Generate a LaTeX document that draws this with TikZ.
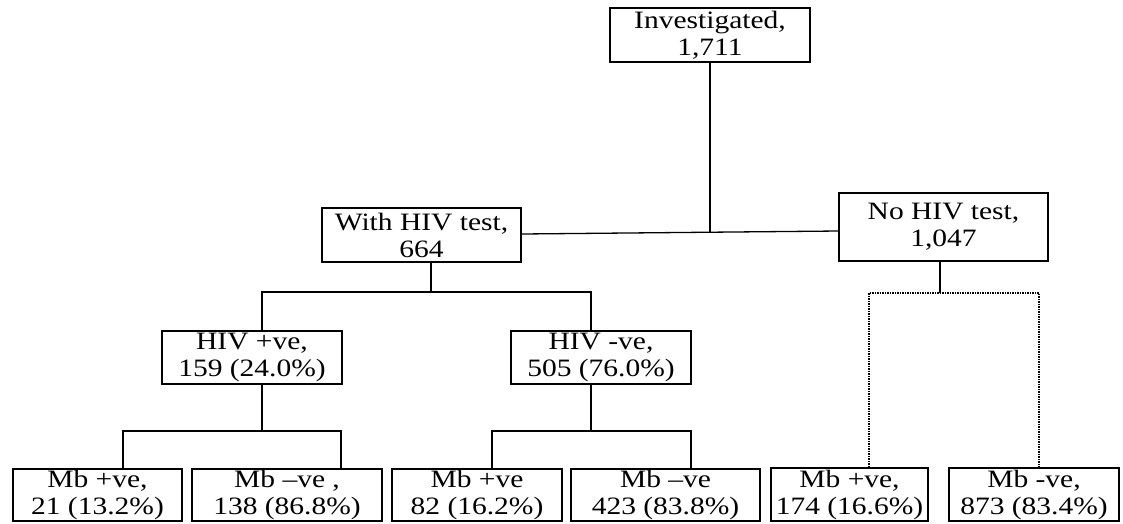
\documentclass[tikz,border=0pt]{standalone}
\usepackage{fontspec}
\setmainfont{Liberation Serif}[FakeStretch=1.18]
\begin{document}
\begin{tikzpicture}[x=1pt,y=-1pt,
  box/.style={draw,line width=1.3pt,inner sep=0pt,align=center,
    font=\fontsize{25pt}{27pt}\selectfont},
  link/.style={line width=1.3pt},
  dotlink/.style={line width=1.3pt,dash pattern=on 1.5pt off 1pt}]
\useasboundingbox[fill=white] (0,0) rectangle (1123,523);
% nodes
\node[box,minimum width=200pt,minimum height=54pt] (inv) at (710,35) {Investigated,\\1,711};
\node[box,minimum width=199pt,minimum height=54pt] (with) at (421.5,235) {With HIV test,\\664};
\node[box,minimum width=209pt,minimum height=68pt] (no) at (943.5,227) {No HIV test,\\1,047};
\node[box,minimum width=180pt,minimum height=53pt] (hpos) at (252,357.5) {HIV +ve,\\159 (24.0\%)};
\node[box,minimum width=180pt,minimum height=53pt] (hneg) at (601,357.5) {HIV -ve,\\505 (76.0\%)};
\node[box,minimum width=169pt,minimum height=52pt] (m1) at (97.5,495) {Mb +ve,\\21 (13.2\%)};
\node[box,minimum width=190pt,minimum height=52pt] (m2) at (287,495) {Mb –ve ,\\138 (86.8\%)};
\node[box,minimum width=170pt,minimum height=52pt] (m3) at (477,495) {Mb +ve\\82 (16.2\%)};
\node[box,minimum width=189pt,minimum height=52pt] (m4) at (665.5,495) {Mb –ve\\423 (83.8\%)};
\node[box,minimum width=157pt,minimum height=53pt] (m5) at (849.5,494.5) {Mb +ve,\\174 (16.6\%)};
\node[box,minimum width=170pt,minimum height=53pt] (m6) at (1034,494.5) {Mb -ve,\\873 (83.4\%)};
% junctions
\coordinate (j0) at (710,233);
\coordinate (wj) at (431,292);
\coordinate (a1) at (262,292);
\coordinate (a2) at (591,292);
\coordinate (b0) at (262,431);
\coordinate (b1) at (123,431);
\coordinate (b2) at (341,431);
\coordinate (c0) at (591,431);
\coordinate (c1) at (492,431);
\coordinate (c2) at (691,431);
\coordinate (d0) at (940,293);
\coordinate (d1) at (869,293);
\coordinate (d2) at (1039,293);
% connectors
\draw[link] (inv.south -| j0) -- (j0);
\draw[link] ([yshift=1pt]with.east) -- ([yshift=-4pt]no.west);
\draw[link] (wj |- with.south) -- (wj);
\draw[link] (a1 |- hpos.north) -- (a1) -- (a2) -- (a2 |- hneg.north);
\draw[link] (b0 |- hpos.south) -- (b0);
\draw[link] (b1 |- m1.north) -- (b1) -- (b2) -- (b2 |- m2.north);
\draw[link] (c0 |- hneg.south) -- (c0);
\draw[link] (c1 |- m3.north) -- (c1) -- (c2) -- (c2 |- m4.north);
\draw[link] (d0 |- no.south) -- (d0);
\draw[dotlink] (d1 |- m5.north) -- (d1) -- (d2) -- (d2 |- m6.north);
\end{tikzpicture}
\end{document}
